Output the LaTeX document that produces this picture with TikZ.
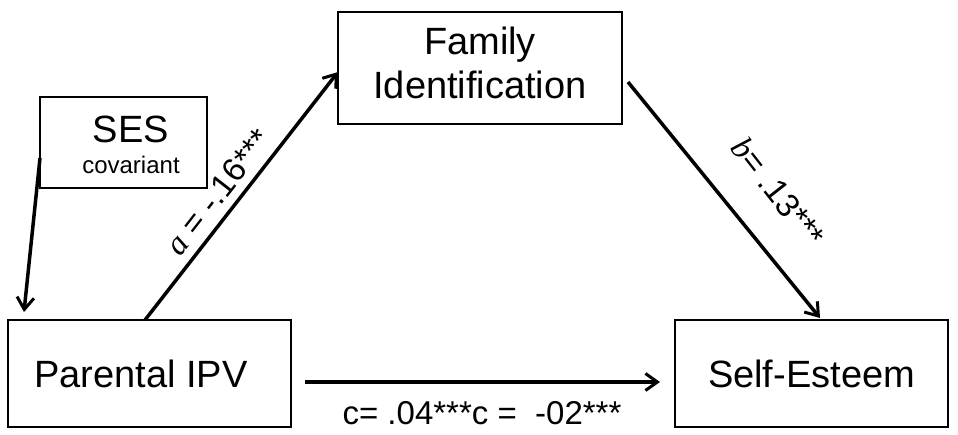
\documentclass[tikz,border=0pt]{standalone}
\usepackage{fontspec}
\usetikzlibrary{arrows.meta}
\setmainfont{Liberation Sans}
\newfontfamily\serifit{Liberation Serif}
\begin{document}
\begin{tikzpicture}[x=1pt,y=-1pt,
  box/.style={draw,line width=1.5pt,inner sep=0pt},
  arr/.style={line width=3.5pt,->,>={Straight Barb[length=12pt,width=17pt,line width=3pt]}},
  big/.style={font=\fontsize{38}{44}\selectfont,align=center}]
\useasboundingbox (0,0) rectangle (958,435);
\node[box,minimum width=283pt,minimum height=107pt] (p) at (149.5,373.5) {};
\node[big] at (141,373.5) {Parental IPV};
\node[box,minimum width=273pt,minimum height=107pt] (s) at (811.5,373.5) {};
\node[big] at (811.5,373.5) {Self-Esteem};
\node[box,minimum width=284pt,minimum height=112pt] (f) at (480,68) {};
\node[big] at (480,63) {Family\\Identification};
\node[box,minimum width=167pt,minimum height=91pt] (ses) at (123.5,142.5) {};
\node[big] at (131,129) {SES};
\node[font=\fontsize{24}{28}\selectfont] at (131,165) {covariant};
\coordinate (p1) at (145,320);
\coordinate (f1) at (338,72);
\coordinate (f2) at (628,82);
\coordinate (s1) at (820,318);
\coordinate (c1) at (305,382);
\coordinate (c2) at (660,382);
\coordinate (e1) at (40,158);
\coordinate (e2) at (24,312);
\draw[arr] (p1) -- (f1);
\draw[arr] (f2) -- (s1);
\draw[arr] (c1) -- (c2);
\draw[arr] (e1) -- (e2);
\node[rotate=52,font=\fontsize{33}{36}\selectfont] at (218,192) {{\serifit\itshape a} = -.16***};
\node[rotate=-52,font=\fontsize{33}{36}\selectfont] at (778,192) {{\serifit\itshape b}= .13***};
\node[font=\fontsize{33}{36}\selectfont] at (482,413) {c= .04***c = \ -02***};
\end{tikzpicture}
\end{document}
